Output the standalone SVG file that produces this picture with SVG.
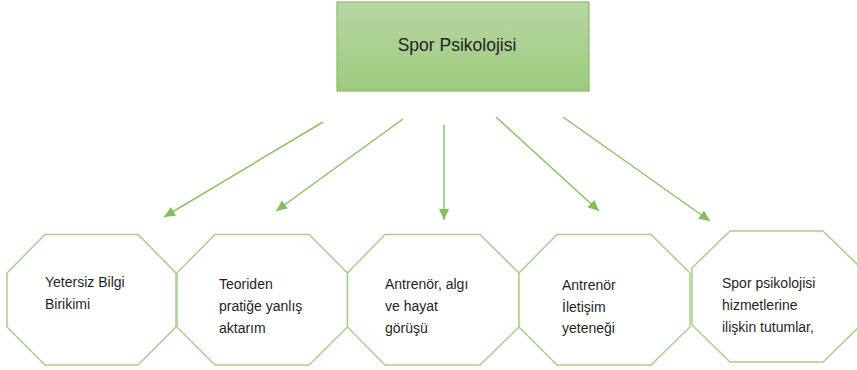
<svg xmlns="http://www.w3.org/2000/svg" width="857" height="370" viewBox="0 0 857 370">
<defs>
<linearGradient id="g" x1="0" y1="0" x2="0" y2="1">
<stop offset="0" stop-color="#b7d7a3"/>
<stop offset="1" stop-color="#9dcb7d"/>
</linearGradient>
<marker id="ah" markerWidth="12" markerHeight="10" refX="11" refY="5" orient="auto" markerUnits="userSpaceOnUse">
<path d="M0,0 L11,5 L0,10 Z" fill="#86bd5c"/>
</marker>
<style>
.oct{fill:#ffffff;stroke:#a8d08c;stroke-width:1.5}
.t{font-family:"Liberation Sans","Open Sans",Arial,sans-serif;font-size:14px;fill:#1f1f1f}
.c{stroke:#8cc266;stroke-width:1.5;fill:none;marker-end:url(#ah)}
</style>
</defs>
<rect width="857" height="370" fill="#ffffff"/>
<g id="root">
<rect x="337" y="2" width="252" height="89" fill="url(#g)" stroke="#8ab96a" stroke-width="1.2"/>
<text x="457" y="51" text-anchor="middle" style="font-family:'Liberation Sans','Open Sans',Arial,sans-serif;font-size:17.5px;fill:#1f1f1f">Spor Psikolojisi</text>
</g>
<g id="connectors">
<line class="c" x1="323" y1="122" x2="164" y2="217"/>
<line class="c" x1="403" y1="119" x2="276" y2="211"/>
<line class="c" x1="444" y1="125" x2="444" y2="220"/>
<line class="c" x1="496" y1="117" x2="599" y2="211"/>
<line class="c" x1="563" y1="117" x2="710" y2="221"/>
</g>
<g id="n1">
<polygon class="oct" points="45,234.5 138,234.5 176,273 176,327 138,365 45,365 7,327 7,273"/>
<text class="t" x="45" y="287">Yetersiz Bilgi</text>
<text class="t" x="45" y="309">Birikimi</text>
</g>
<g id="n2">
<polygon class="oct" points="215,234.5 309,234.5 347.5,273 347.5,327 309,365 215,365 177,327 177,273"/>
<text class="t" x="219" y="289">Teoriden</text>
<text class="t" x="219" y="311">pratiğe yanlış</text>
<text class="t" x="219" y="333">aktarım</text>
</g>
<g id="n3">
<polygon class="oct" points="385,234.5 480,234.5 519,273 519,327 480,365 385,365 347.5,327 347.5,273"/>
<text class="t" x="385" y="289">Antrenör, algı</text>
<text class="t" x="385" y="311">ve hayat</text>
<text class="t" x="385" y="333">görüşü</text>
</g>
<g id="n4">
<polygon class="oct" points="557,234.5 651,234.5 690,273 690,327 651,365 557,365 519,327 519,273"/>
<text class="t" x="562" y="290">Antrenör</text>
<text class="t" x="562" y="312">İletişim</text>
<text class="t" x="562" y="333">yeteneği</text>
</g>
<g id="n5">
<polygon class="oct" points="730,231 823,231 861,268 861,325 823,362 730,362 692,325 692,268"/>
<text class="t" x="722" y="288">Spor psikolojisi</text>
<text class="t" x="722" y="310">hizmetlerine</text>
<text class="t" x="722" y="332">ilişkin tutumlar,</text>
</g>
</svg>
